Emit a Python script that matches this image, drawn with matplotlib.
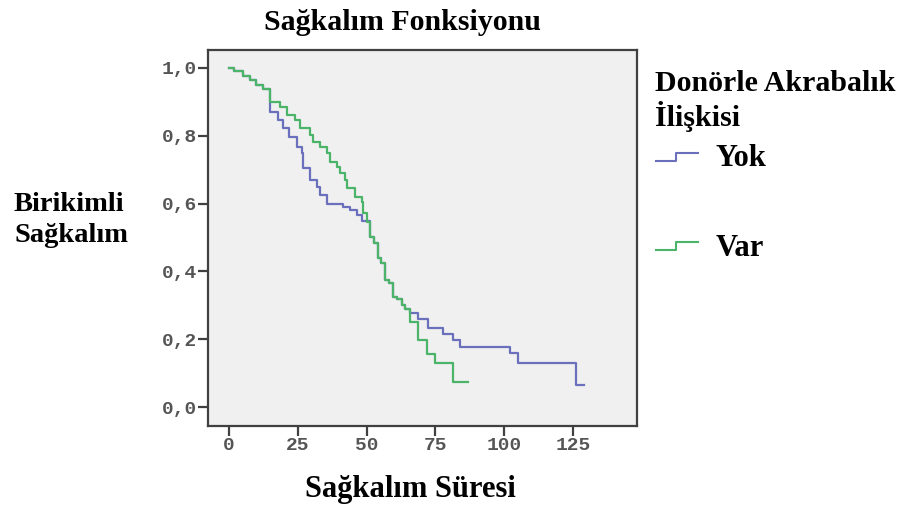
import matplotlib
matplotlib.use("Agg")
import matplotlib.pyplot as plt
from matplotlib.lines import Line2D

# Kaplan-Meier steps (time of event, survival after it)
yok_t = [0, 2, 5, 7.5, 10, 12.5, 15, 17.9, 19.7, 22, 24.6, 26.4, 27, 29.4, 31.9,
         33, 35.5, 41.5, 44, 46.4, 48.5, 51.2, 52.6, 54, 55.3, 56.7, 58, 59.6, 61,
         62.8, 64, 65.8, 68.7, 72.3, 77.8, 81.4, 84, 102, 105, 126]
yok_s = [1.0, 0.99, 0.977, 0.964, 0.951, 0.938, 0.871, 0.847, 0.823, 0.797, 0.768,
         0.749, 0.705, 0.670, 0.650, 0.625, 0.600, 0.590, 0.580, 0.566, 0.548, 0.50,
         0.485, 0.44, 0.425, 0.375, 0.365, 0.325, 0.32, 0.30, 0.29, 0.277, 0.26,
         0.233, 0.215, 0.198, 0.177, 0.160, 0.13, 0.065]
yok_end = 129

var_t = [0, 2, 5, 7.5, 10, 12.5, 15, 18.5, 21, 24, 25.8, 29.4, 30.6, 33, 35.5, 36.7,
         39.1, 40.3, 42.2, 42.8, 45.8, 48.2, 48.8, 50, 51.2, 52.6, 54, 55.3, 56.7, 58,
         59.6, 61, 62.8, 64, 65.8, 68.7, 72, 74.8, 81.4]
var_s = [1.0, 0.99, 0.977, 0.964, 0.951, 0.938, 0.90, 0.885, 0.861, 0.847, 0.823,
         0.802, 0.783, 0.768, 0.749, 0.724, 0.709, 0.690, 0.670, 0.646, 0.620, 0.606,
         0.572, 0.547, 0.50, 0.485, 0.44, 0.425, 0.375, 0.365, 0.325, 0.32, 0.30, 0.29,
         0.25, 0.198, 0.156, 0.13, 0.074]
var_end = 86.8

x_ticks = [0, 25, 50, 75, 100, 125]
y_ticks = [0.0, 0.2, 0.4, 0.6, 0.8, 1.0]
y_labels = ["0,0", "0,2", "0,4", "0,6", "0,8", "1,0"]

BLUE = "#6a70bc"
GREEN = "#4cb468"
SERIF = "Liberation Serif"
MONO = "Liberation Mono"

fig = plt.figure(figsize=(9.06, 5.12), dpi=100)
ax = fig.add_axes([208 / 906, 1 - 426 / 512, 429 / 906, 376 / 512])
ax.set_facecolor("#f0f0f0")

ax.step(yok_t + [yok_end], yok_s + [yok_s[-1]], where="post", color=BLUE, lw=1.6)
ax.step(var_t + [var_end], var_s + [var_s[-1]], where="post", color=GREEN, lw=1.6)

ax.set_xlim(-7.6, 148.3)
ax.set_ylim(-0.056, 1.053)
ax.set_xticks(x_ticks)
ax.set_xticklabels([str(v) for v in x_ticks])
ax.set_yticks(y_ticks)
ax.set_yticklabels(y_labels)
for s in ax.spines.values():
    s.set_color("#404040")
    s.set_linewidth(1.6)
ax.tick_params(direction="out", length=7, width=1.6, color="#404040",
               labelcolor="#555555", labelsize=14, pad=1)
for lab in ax.get_xticklabels() + ax.get_yticklabels():
    lab.set_fontfamily(MONO)
    lab.set_fontweight("bold")

fig.text(402 / 906, 1 - 22 / 512, "Sağkalım Fonksiyonu", family=SERIF,
         weight="bold", fontsize=21.5, ha="center", va="center")
fig.text(410 / 906, 1 - 490 / 512, "Sağkalım Süresi", family=SERIF,
         weight="bold", fontsize=22, ha="center", va="center")
fig.text(14 / 906, 1 - 220 / 512, "Birikimli\nSağkalım", family=SERIF,
         weight="bold", fontsize=20.5, ha="left", va="center", linespacing=1.3)

# legend block on the right
fig.text(655 / 906, 1 - 101 / 512, "Donörle Akrabalık\nİlişkisi", family=SERIF,
         weight="bold", fontsize=21.5, ha="left", va="center", linespacing=1.15)
for y, col, name in [(157, BLUE, "Yok"), (246, GREEN, "Var")]:
    xs = [656, 676, 676, 698]
    ys = [y + 4, y + 4, y - 4, y - 4]
    fig.add_artist(Line2D([v / 906 for v in xs], [1 - v / 512 for v in ys],
                          color=col, lw=1.5))
    fig.text(716 / 906, 1 - (y + 2) / 512, name, family=SERIF, weight="bold",
             fontsize=22, ha="left", va="center")

fig.savefig("out.png", dpi=100)
